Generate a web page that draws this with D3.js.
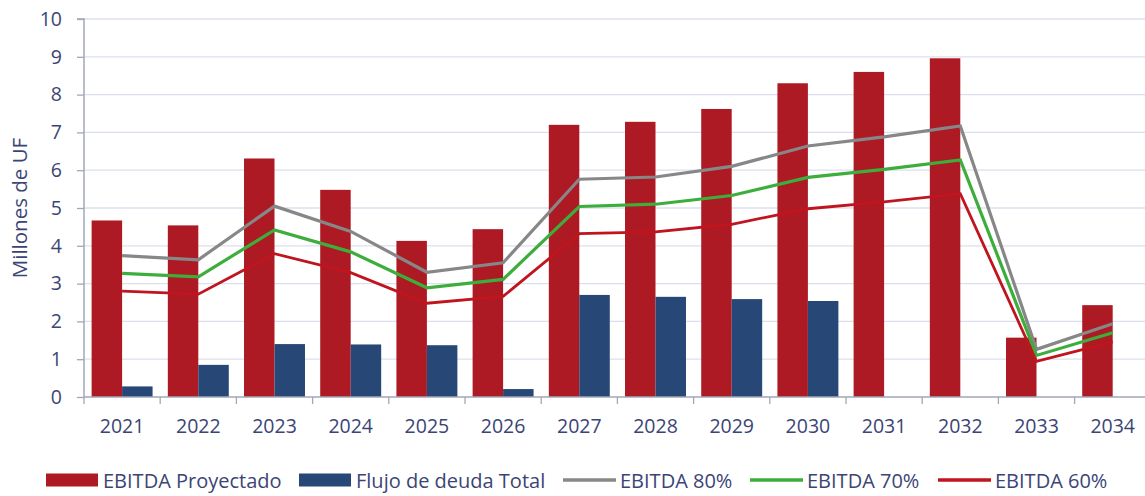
<!DOCTYPE html>
<html><head><meta charset="utf-8">
<script src="https://cdn.jsdelivr.net/npm/d3@7/dist/d3.min.js"></script>
<style>body{margin:0;background:#fff;}svg{display:block;font-family:"Open Sans",sans-serif;}</style>
</head><body>
<svg id="c" width="1145" height="496"></svg>
<script>
const years = ["2021","2022","2023","2024","2025","2026","2027","2028","2029","2030","2031","2032","2033","2034"];
const ebitda = [4.67,4.54,6.31,5.48,4.13,4.44,7.20,7.28,7.62,8.30,8.60,8.96,1.57,2.43];
const flujo = [0.28,0.85,1.40,1.39,1.37,0.21,2.70,2.65,2.59,2.54,null,null,null,null];
const e80 = [3.74,3.63,5.05,4.38,3.30,3.55,5.76,5.82,6.10,6.64,6.88,7.17,1.26,1.94];
const e70 = [3.27,3.18,4.42,3.84,2.89,3.11,5.04,5.10,5.33,5.81,6.02,6.27,1.10,1.70];
const e60 = [2.80,2.72,3.79,3.29,2.48,2.66,4.32,4.37,4.57,4.98,5.16,5.38,0.94,1.46];
const yTicks = [0,1,2,3,4,5,6,7,8,9,10];
const legendLabels = ["EBITDA Proyectado","Flujo de deuda Total","EBITDA 80%","EBITDA 70%","EBITDA 60%"];

const C = {red:"#AD1A24", blue:"#274777", gray:"#878787", green:"#3DAE3C", redLine:"#C0141E", text:"#3B4575", grid:"#DCDFEF", axis:"#A3A6B8"};
const svg = d3.select("#c");
const pLeft = 84, pRight = 84 + 14*76.2, pTop = 19, pBottom = 397;

const x = d3.scaleBand().domain(years).range([pLeft, pRight]).paddingInner(0).paddingOuter(0);
const inner = d3.scaleBand().domain(["a","b"]).range([0, x.bandwidth()]).paddingOuter(0.25).paddingInner(0);
const y = d3.scaleLinear().domain([0,10]).range([pBottom, pTop]);

// grid
svg.append("g").selectAll("line").data(yTicks.filter(d=>d>0)).join("line")
  .attr("x1", pLeft).attr("x2", 1145).attr("y1", d=>y(d)).attr("y2", d=>y(d))
  .attr("stroke", C.grid).attr("stroke-width", 1.3);

// bars
const g = svg.append("g");
g.selectAll(".r").data(years).join("rect")
  .attr("x", d=>x(d)+inner("a")).attr("width", inner.bandwidth())
  .attr("y", (d,i)=>y(ebitda[i])).attr("height", (d,i)=>y(0)-y(ebitda[i]))
  .attr("fill", C.red);
g.selectAll(".b").data(years.filter((d,i)=>flujo[i]!=null)).join("rect")
  .attr("x", d=>x(d)+inner("b")).attr("width", inner.bandwidth())
  .attr("y", d=>y(flujo[years.indexOf(d)])).attr("height", d=>y(0)-y(flujo[years.indexOf(d)]))
  .attr("fill", C.blue);

// axes
const yAxis = d3.axisLeft(y).tickValues(yTicks).tickSize(7).tickPadding(15).tickFormat(d3.format("d"));
const ya = svg.append("g").attr("transform",`translate(${pLeft},0)`).call(yAxis);
ya.select(".domain").attr("stroke", C.axis).attr("stroke-width",1.5).attr("d", `M-7,${pTop}H0V${pBottom}`);
ya.selectAll(".tick line").attr("stroke", C.axis).attr("stroke-width",1.3);
ya.selectAll("text").attr("fill", C.text).attr("font-size", 19.5).attr("font-family","Open Sans");

const xa = svg.append("g").attr("transform",`translate(0,${pBottom})`)
  .call(d3.axisBottom(x).tickSize(0).tickPadding(22));
xa.select(".domain").attr("stroke", C.axis).attr("stroke-width",1.5).attr("d", `M${pLeft},0H1145`);
xa.selectAll("text").attr("fill", C.text).attr("font-size", 19.5).attr("font-family","Open Sans");
svg.append("g").selectAll("line").data(years).join("line")
  .attr("x1", d=>x(d)).attr("x2", d=>x(d)).attr("y1", pBottom).attr("y2", pBottom+7)
  .attr("stroke", C.axis).attr("stroke-width",1.3);

// lines
const line = arr => d3.line().x((d,i)=>x(years[i])+x.bandwidth()/2).y(d=>y(d))(arr);
[[e80,C.gray,3.2],[e70,C.green,3.2],[e60,C.redLine,2.8]].forEach(([arr,col,w])=>{
  svg.append("path").attr("d", line(arr)).attr("fill","none").attr("stroke",col).attr("stroke-width",w).attr("stroke-linejoin","miter");
});

// y title
svg.append("text").attr("transform",`translate(27,${(pTop+pBottom)/2}) rotate(-90)`)
  .attr("text-anchor","middle").attr("fill",C.text).attr("font-size",20.5).text("Millones de UF");

// legend
const legX = [46, 299, 563, 750, 938];
const legTypes = ["rect","rect","line","line","line"];
const legCols = [C.red, C.blue, C.gray, C.green, C.redLine];
const lg = svg.append("g");
legendLabels.forEach((lab,i)=>{
  if (legTypes[i]==="rect") lg.append("rect").attr("x",legX[i]).attr("y",473.5).attr("width",52).attr("height",13).attr("fill",legCols[i]);
  else lg.append("line").attr("x1",legX[i]).attr("x2",legX[i]+53).attr("y1",480).attr("y2",480).attr("stroke",legCols[i]).attr("stroke-width",3.5);
  lg.append("text").attr("x",legX[i]+57).attr("y",487.5).attr("fill",C.text).attr("font-size",20).text(lab);
});
</script>
</body></html>
